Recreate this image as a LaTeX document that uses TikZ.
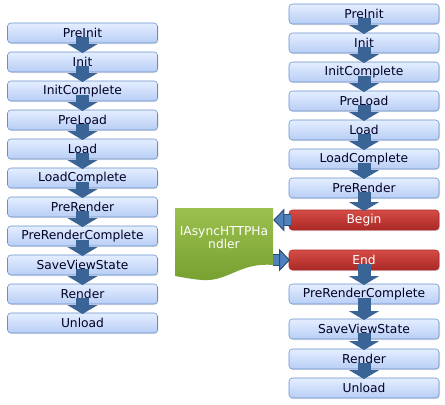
\documentclass[tikz,border=0pt]{standalone}
\usepackage{fontspec}
\setmainfont{DejaVu Sans}
\usepackage{tikz}
\usetikzlibrary{arrows.meta,positioning,calc,shadows}
\definecolor{boxtop}{RGB}{228,238,255}
\definecolor{boxbot}{RGB}{184,206,245}
\definecolor{boxedge}{RGB}{104,142,200}
\definecolor{redtop}{RGB}{214,76,70}
\definecolor{redbot}{RGB}{170,40,38}
\definecolor{downblue}{RGB}{58,100,150}
\definecolor{sideblue}{RGB}{79,129,189}
\definecolor{sideedge}{RGB}{44,77,117}
\definecolor{greentop}{RGB}{156,192,80}
\definecolor{greenbot}{RGB}{118,160,48}

\begin{document}
\begin{tikzpicture}[
    x=0.75pt, y=-0.75pt,
    node distance=6.75pt,
    box/.style={rectangle, draw=boxedge, rounded corners=2.5pt, top color=boxtop, bottom color=boxbot,
        minimum width=112.5pt, minimum height=15pt, inner sep=0pt, outer sep=0pt, text=black!85!blue,
        font=\fontsize{9.2}{10}\selectfont, drop shadow={opacity=0.2, shadow xshift=0.8pt, shadow yshift=-0.8pt}},
    redbox/.style={box, draw=redbot, top color=redtop, bottom color=redbot, text=white},
    down/.style={draw=downblue, line width=9.75pt, -{Triangle[width=22.5pt, length=6.75pt, fill=downblue]}},
    side/.style={draw=sideblue, line width=8pt,
        preaction={draw=sideedge, line width=9.5pt, arrows=-, shorten >=7.5pt},
        -{Triangle[width=17pt, length=8.25pt, fill=sideblue, color=sideedge, line width=0.75pt]}}
]
    \useasboundingbox (0,0) rectangle (445,404);

    % left column
    \node[box] (lpreinit) at (82.5,33) {PreInit};
    \node[box, below=of lpreinit] (linit) {Init};
    \node[box, below=of linit] (linitc) {InitComplete};
    \node[box, below=of linitc] (lpreload) {PreLoad};
    \node[box, below=of lpreload] (lload) {Load};
    \node[box, below=of lload] (lloadc) {LoadComplete};
    \node[box, below=of lloadc] (lprerender) {PreRender};
    \node[box, below=of lprerender] (lprerenderc) {PreRenderComplete};
    \node[box, below=of lprerenderc] (lsave) {SaveViewState};
    \node[box, below=of lsave] (lrender) {Render};
    \node[box, below=of lrender] (lunload) {Unload};

    % right column
    \node[box] (rpreinit) at (364,14) {PreInit};
    \node[box, below=of rpreinit] (rinit) {Init};
    \node[box, below=of rinit] (rinitc) {InitComplete};
    \node[box, below=of rinitc] (rpreload) {PreLoad};
    \node[box, below=of rpreload] (rload) {Load};
    \node[box, below=of rload] (rloadc) {LoadComplete};
    \node[box, below=of rloadc] (rprerender) {PreRender};
    \node[redbox, below=9pt of rprerender] (rbegin) {Begin};
    \node[redbox, below=15pt of rbegin] (rend) {End};
    \node[box, below=10.5pt of rend] (rprerenderc) {PreRenderComplete};
    \node[box, below=11.25pt of rprerenderc] (rsave) {SaveViewState};
    \node[box, below=7.5pt of rsave] (rrender) {Render};
    \node[box, below=of rrender] (runload) {Unload};

    % handler document
    \shade[top color=greentop, bottom color=greenbot] (175,208) -- (273,208) -- (273,265)
        .. controls (240,262) and (228,282) .. (202,280)
        .. controls (190,279) and (181,277) .. (175,276) -- cycle;
    \node[minimum width=73.5pt, minimum height=51pt, align=center, text=white,
        font=\fontsize{9.2}{8.4}\selectfont] (doc) at (224,237.5) {IAsyncHTTPHa\\ndler};

    \foreach \a/\b in {lpreinit/linit, linit/linitc, linitc/lpreload, lpreload/lload, lload/lloadc,
        lloadc/lprerender, lprerender/lprerenderc, lprerenderc/lsave, lsave/lrender, lrender/lunload,
        rpreinit/rinit, rinit/rinitc, rinitc/rpreload, rpreload/rload, rload/rloadc,
        rloadc/rprerender, rprerender/rbegin, rend/rprerenderc, rprerenderc/rsave, rsave/rrender, rrender/runload}
        \draw[down] ([yshift=4.5pt]\a.south) -- ([yshift=-0.75pt]\b.north);

    \draw[side] ([xshift=1.5pt]rbegin.west) -- (rbegin.west -| doc.east);
    \draw[side] (rend.west -| doc.east) -- ([xshift=0.75pt]rend.west);
\end{tikzpicture}
\end{document}
